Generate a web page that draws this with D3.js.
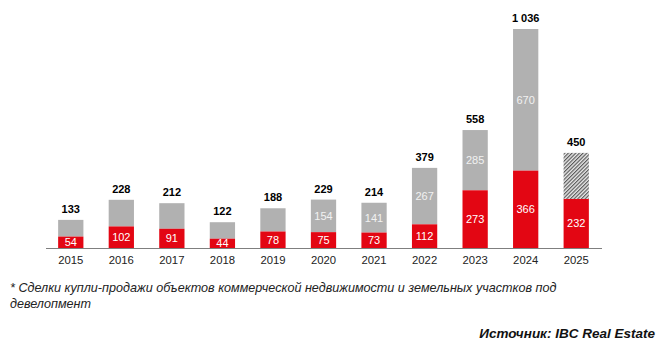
<!DOCTYPE html>
<html><head><meta charset="utf-8">
<script src="https://cdn.jsdelivr.net/npm/d3@7"></script>
<style>body{margin:0;background:#fff}svg{display:block}</style>
</head><body>
<svg id="c" width="669" height="350"></svg>
<script>
const years = ["2015","2016","2017","2018","2019","2020","2021","2022","2023","2024","2025"];
const redValues = [54,102,91,44,78,75,73,112,273,366,232];
const grayValues = [79,126,121,78,110,154,141,267,285,670,218];
const totals = [133,228,212,122,188,229,214,379,558,1036,450];
const totalLabels = ["133","228","212","122","188","229","214","379","558","1 036","450"];
const grayLabels = [null,null,null,null,null,"154","141","267","285","670",null];
const hatchedYears = ["2025"];
const footnote = ["* Сделки купли-продажи объектов коммерческой недвижимости и земельных участков под","девелопмент"];
const source = "Источник: IBC Real Estate";

const svg = d3.select("#c");
const font = "Liberation Sans, Arial, sans-serif";
const x = d3.scaleBand().domain(years).range([45.5, 601.5]).paddingInner(0.5).paddingOuter(0.25);
const y = d3.scaleLinear().domain([0, 1036]).range([248, 29]);

const defs = svg.append("defs");
const pat = defs.append("pattern").attr("id","hatch").attr("patternUnits","userSpaceOnUse")
  .attr("width",2.6).attr("height",2.6).attr("patternTransform","rotate(45)");
pat.append("rect").attr("width",2.6).attr("height",2.6).attr("fill","#ececec");
pat.append("rect").attr("width",1.2).attr("height",2.6).attr("fill","#5a5a5a");

const g = svg.append("g");
years.forEach((yr,i)=>{
  const bx = x(yr), bw = x.bandwidth();
  const r0 = y(0), r1 = y(redValues[i]), t1 = y(redValues[i]+grayValues[i]);
  g.append("rect").attr("x",bx).attr("width",bw).attr("y",t1).attr("height",r1-t1)
    .attr("fill", hatchedYears.includes(yr) ? "url(#hatch)" : "#b1b1b1");
  g.append("rect").attr("x",bx).attr("width",bw).attr("y",r1).attr("height",r0-r1).attr("fill","#e30613");
  g.append("text").attr("x",bx+bw/2).attr("y",(r0+r1)/2).attr("dy","0.36em").attr("text-anchor","middle")
    .attr("font-family",font).attr("font-size",11).attr("fill","#fff").text(redValues[i]);
  if (grayLabels[i]) g.append("text").attr("x",bx+bw/2).attr("y",(r1+t1)/2).attr("dy","0.36em").attr("text-anchor","middle")
    .attr("font-family",font).attr("font-size",11).attr("fill","#f2f2f2").text(grayLabels[i]);
  g.append("text").attr("x",bx+bw/2).attr("y",t1-7).attr("text-anchor","middle")
    .attr("font-family",font).attr("font-size",11).attr("font-weight","bold").attr("fill","#000").text(totalLabels[i]);
});

const ax = svg.append("g").attr("transform","translate(0,248)").call(d3.axisBottom(x).tickSize(0).tickPadding(8));
ax.select(".domain").attr("stroke","#7f7f7f").attr("stroke-width",1.2);
ax.selectAll("text").attr("font-family",font).attr("font-size",11.3).attr("fill","#222");

footnote.forEach((t,i)=>svg.append("text").attr("x",10).attr("y",292+i*16)
  .attr("font-family",font).attr("font-size",12.6).attr("font-style","italic").attr("fill","#222").text(t));
svg.append("text").attr("x",655).attr("y",338).attr("text-anchor","end")
  .attr("font-family",font).attr("font-size",13.5).attr("font-style","italic").attr("font-weight","bold").attr("fill","#111").text(source);
</script>
</body></html>
